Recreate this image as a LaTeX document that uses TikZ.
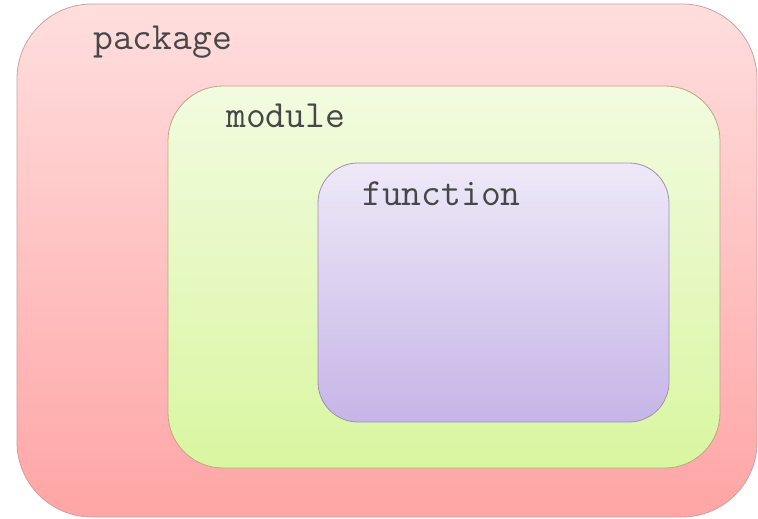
\documentclass[tikz,border=0pt]{standalone}
\usepackage{fontspec}
\begin{document}
\begin{tikzpicture}[x=1pt,y=-1pt,
  box/.style={draw, line width=0.8pt, rounded corners=#1, inner sep=0pt},
  lbl/.style={font=\ttfamily\fontsize{38.5}{38.5}\selectfont, text=black!72, inner sep=0pt, anchor=base west}]
\definecolor{pkgtop}{RGB}{255,222,222}
\definecolor{pkgbot}{RGB}{255,165,165}
\definecolor{pkgline}{RGB}{205,160,160}
\definecolor{modtop}{RGB}{242,251,224}
\definecolor{modbot}{RGB}{217,246,160}
\definecolor{modline}{RGB}{190,165,125}
\definecolor{funtop}{RGB}{238,233,248}
\definecolor{funbot}{RGB}{198,181,232}
\definecolor{funline}{RGB}{160,145,175}
\useasboundingbox (0,0) rectangle (758,519);
\fill[white] (0,0) rectangle (758,519);
% nested containers
\node[box=75pt, draw=pkgline, top color=pkgtop, bottom color=pkgbot,
      minimum width=740pt, minimum height=513pt] (package) at (387,260.5) {};
\node[box=55pt, draw=modline, top color=modtop, bottom color=modbot,
      minimum width=552pt, minimum height=382pt] (module) at (444,277) {};
\node[box=40pt, draw=funline, top color=funtop, bottom color=funbot,
      minimum width=351pt, minimum height=259pt] (function) at (493.5,292.5) {};
% labels
\node[lbl] (pkglabel) at (93,50) {package};
\node[lbl] (modlabel) at (226,127) {module};
\node[lbl] (funlabel) at (362,205) {function};
\end{tikzpicture}
\end{document}
